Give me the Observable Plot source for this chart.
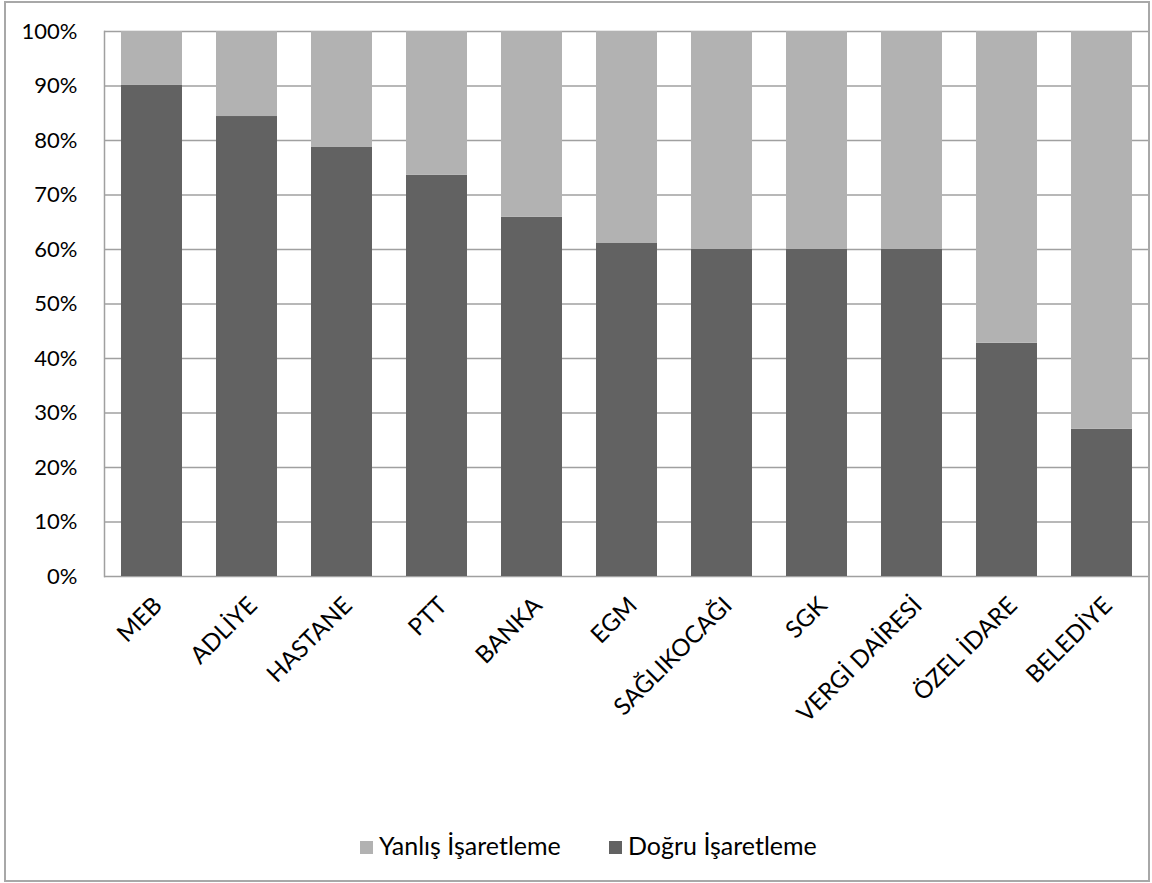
<!DOCTYPE html>
<html>
<head>
<meta charset="utf-8">
<script src="https://cdn.jsdelivr.net/npm/d3@7"></script>
<script src="https://cdn.jsdelivr.net/npm/@observablehq/plot@0.6"></script>
<style>
  html, body { margin: 0; padding: 0; background: #fff; }
  #wrap { position: relative; width: 1152px; height: 883px; font-family: Lato, "Open Sans", sans-serif; }
  #frame { position: absolute; left: 4px; top: 1px; width: 1146px; height: 881px; border: 2px solid #a8a8a8; box-sizing: border-box; pointer-events: none; }
  #legend { position: absolute; left: 0; top: 830px; width: 1152px; height: 30px; font-size: 25px; color: #000; }
  .item { position: absolute; top: 0; line-height: 30px; white-space: nowrap; }
  .sw { display: inline-block; width: 13px; height: 13px; margin-right: 6px; vertical-align: 1px; }
</style>
</head>
<body>
<div id="wrap">
  <div id="chart"></div>
  <div id="legend"></div>
  <div id="frame"></div>
</div>
<script>
const categories = ["MEB", "ADLİYE", "HASTANE", "PTT", "BANKA", "EGM", "SAĞLIKOCAĞI", "SGK", "VERGİ DAİRESİ", "ÖZEL İDARE", "BELEDİYE"];
const dogru  = [90.1, 84.4, 78.8, 73.6, 65.9, 61.1, 60.0, 60.0, 60.0, 42.8, 27.0];
const yanlis = [9.9, 15.6, 21.2, 26.4, 34.1, 38.9, 40.0, 40.0, 40.0, 57.2, 73.0];
const seriesNames = ["Yanlış İşaretleme", "Doğru İşaretleme"];
const seriesColors = ["#b2b2b2", "#626262"];
const yTicks = [0, 10, 20, 30, 40, 50, 60, 70, 80, 90, 100];

const rows = [];
categories.forEach((c, i) => rows.push({category: c, series: "Doğru İşaretleme", value: dogru[i]}));
categories.forEach((c, i) => rows.push({category: c, series: "Yanlış İşaretleme", value: yanlis[i]}));

const chart = Plot.plot({
  width: 1152,
  height: 820,
  marginLeft: 104,
  marginRight: 3,
  marginTop: 31,
  marginBottom: 244,
  style: {fontFamily: "Lato, 'Open Sans', sans-serif", fontSize: "22px", color: "#000", background: "transparent"},
  x: {domain: categories, paddingInner: 0.358, paddingOuter: 0.179, label: null},
  y: {domain: [0, 100], label: null},
  color: {domain: seriesNames, range: seriesColors},
  marks: [
    Plot.ruleY(yTicks, {stroke: "#a0a0a0", strokeWidth: 1.5}),
    Plot.frame({anchor: "left", stroke: "#a0a0a0", strokeWidth: 1.5}),
    Plot.barY(rows, Plot.stackY({x: "category", y: "value", fill: "series", order: null})),
    Plot.axisY(yTicks, {tickSize: 0, tickPadding: 27, tickFormat: d => d + "%", label: null, fill: "#000", fontSize: 22}),
    Plot.axisX({tickSize: 0, tickPadding: 25, dx: 6, tickRotate: -45, label: null, fill: "#000", fontSize: 24})
  ]
});
document.getElementById("chart").appendChild(chart);

const legend = document.getElementById("legend");
const legendX = [360, 609];
seriesNames.forEach((name, i) => {
  const d = document.createElement("div");
  d.className = "item";
  d.style.left = legendX[i] + "px";
  d.innerHTML = `<span class="sw" style="background:${seriesColors[i]}"></span>${name}`;
  legend.appendChild(d);
});
</script>
</body>
</html>
